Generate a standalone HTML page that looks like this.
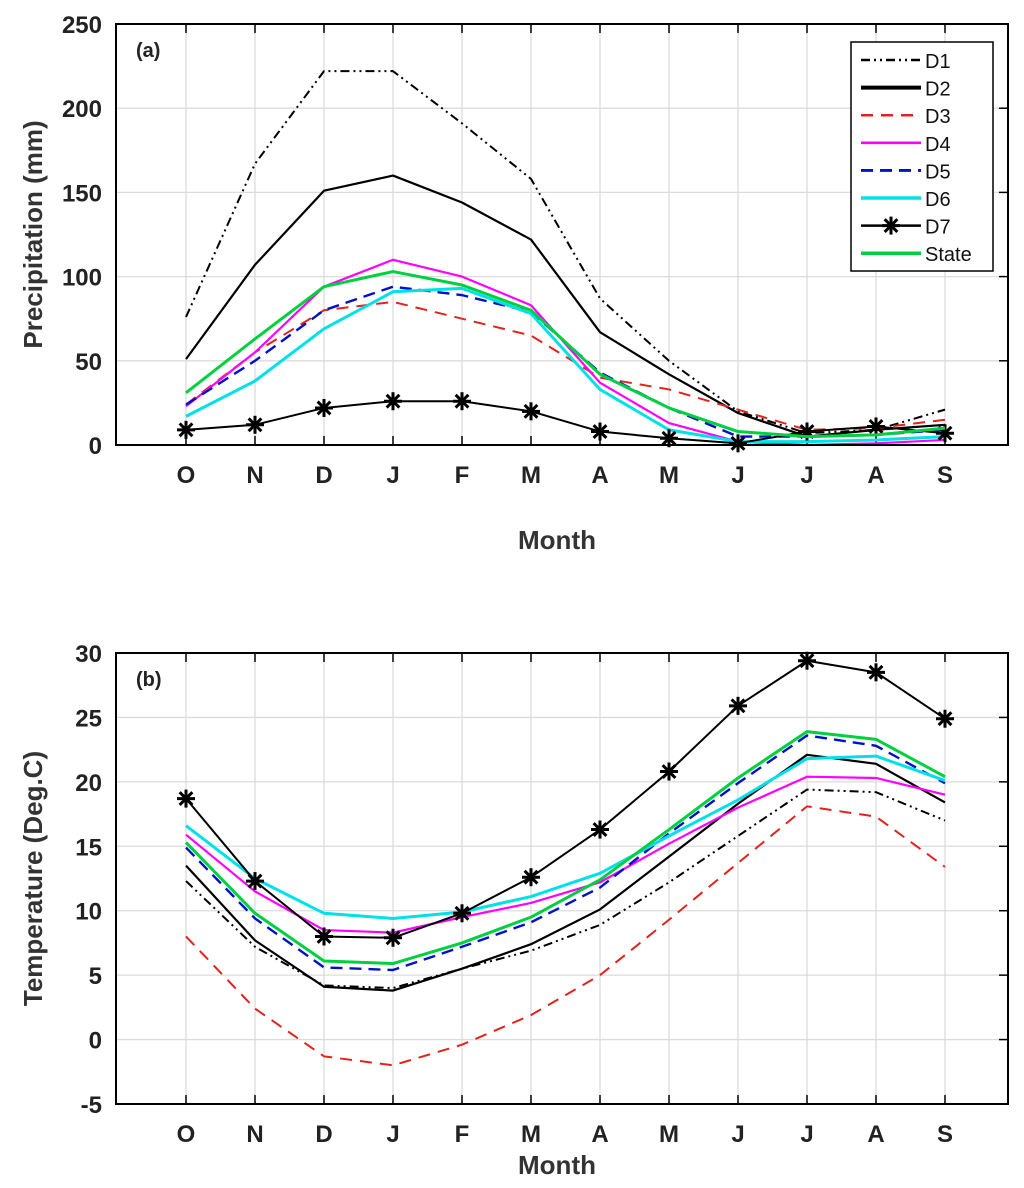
<!DOCTYPE html>
<html><head><meta charset="utf-8"><style>
html,body{margin:0;padding:0;background:#fff;}
svg{display:block;font-family:"Liberation Sans",Arial,sans-serif;}
</style></head><body>
<svg id="fig" width="1024" height="1188" viewBox="0 0 1024 1188" xmlns="http://www.w3.org/2000/svg"></svg>
<script>
const months = ["O","N","D","J","F","M","A","M","J","J","A","S"];
const seriesNames = ["D1","D2","D3","D4","D5","D6","D7","State"];
const precipD1 = [76,167,222,222,191,158,87,50,20,7,9,21];
const precipD2 = [51,107,151,160,144,122,67,42,19,5,9,12];
const precipD3 = [24,55,80,85,75,65,40,33,21,9,10,15];
const precipD4 = [23,55,94,110,100,83,37,13,2,0,1,3];
const precipD5 = [24,50,80,94,89,79,43,22,5,5,6,9];
const precipD6 = [17,38,69,91,93,78,33,9,2,2,3,5];
const precipD7 = [9,12,22,26,26,20,8,4,1,8,11,7];
const precipState = [31,63,94,103,95,80,42,22,8,5,6,10];
const tempD1 = [12.3,7.2,4.2,4,5.5,6.9,8.9,12.2,15.8,19.4,19.2,17];
const tempD2 = [13.5,7.7,4.1,3.8,5.5,7.4,10.1,14.2,18.3,22.1,21.4,18.4];
const tempD3 = [8,2.4,-1.3,-2,-0.4,1.9,5,9.3,13.7,18.1,17.3,13.4];
const tempD4 = [15.9,11.5,8.5,8.3,9.5,10.6,12.2,15.2,18,20.4,20.3,19];
const tempD5 = [14.9,9.4,5.6,5.4,7.2,9.1,11.8,16,19.9,23.6,22.8,19.9];
const tempD6 = [16.6,12.5,9.8,9.4,9.9,11.1,12.9,15.8,18.6,21.8,22,20.1];
const tempD7 = [18.7,12.3,8,7.9,9.8,12.6,16.3,20.8,25.9,29.4,28.5,24.9];
const tempState = [15.3,9.8,6.1,5.9,7.5,9.5,12.4,16.3,20.3,23.9,23.3,20.4];
const precipTicks = [0,50,100,150,200,250];
const tempTicks = [-5,0,5,10,15,20,25,30];

const NS="http://www.w3.org/2000/svg";
const svg=document.getElementById('fig');
function mk(tag,attrs,parent){const e=document.createElementNS(NS,tag);for(const k in attrs)e.setAttribute(k,attrs[k]);(parent||svg).appendChild(e);return e;}

const styles=[
 {stroke:"#000",w:2,dash:"9 4 2 4 2 4"},
 {stroke:"#000",w:2.2,dash:""},
 {stroke:"#e0241c",w:2,dash:"12 8"},
 {stroke:"#ff00ff",w:2.2,dash:""},
 {stroke:"#0010c8",w:2.4,dash:"12 7"},
 {stroke:"#00e0e8",w:3,dash:""},
 {stroke:"#000",w:2,dash:"",marker:true},
 {stroke:"#00d040",w:3,dash:""}
];

function panel(cfg){
  const g=mk('g',{});
  
  
  const L=116,R=1008,T=cfg.top,B=cfg.bottom;
  const x=i=>186+69*i;
  const y=v=>B-(v-cfg.min)/(cfg.max-cfg.min)*(B-T);
  months.forEach((m,i)=>{mk('line',{x1:x(i),x2:x(i),y1:T,y2:B,stroke:"#dcdcdc","stroke-width":1.3},g);});
  cfg.ticks.forEach(t=>{mk('line',{x1:L,x2:R,y1:y(t),y2:y(t),stroke:"#dcdcdc","stroke-width":1.3},g);});
  months.forEach((m,i)=>{
    mk('line',{x1:x(i),x2:x(i),y1:T,y2:T+9,stroke:"#000","stroke-width":1.5},g);
    mk('line',{x1:x(i),x2:x(i),y1:B,y2:B-9,stroke:"#000","stroke-width":1.5},g);
    const t=mk('text',{x:x(i),y:B+38,"text-anchor":"middle","font-size":24,"font-weight":"bold",fill:"#222"},g);
    t.textContent=m;
    
    
  });
  cfg.ticks.forEach(v=>{
    mk('line',{x1:R,x2:R-9,y1:y(v),y2:y(v),stroke:"#000","stroke-width":1.5},g);
    const t=mk('text',{x:102,y:y(v)+9,"text-anchor":"end","font-size":24,"font-weight":"bold",fill:"#222"},g);
    t.textContent=v;
    
    
  });
  cfg.data.forEach((arr,k)=>{
    const s=styles[k];
    const pts=arr.map((v,i)=>x(i)+","+y(v)).join(" ");
    const pl=mk('polyline',{points:pts,fill:"none",stroke:s.stroke,"stroke-width":s.w,"stroke-dasharray":s.dash,"stroke-linejoin":"round"},g);
    
    
    if(s.marker){arr.forEach((v,i)=>{star(x(i),y(v),g);});}
  });
  const fr=mk('rect',{x:L,y:T,width:R-L,height:B-T,fill:"none",stroke:"#000","stroke-width":2},g);
  
  
  const pl=mk('text',{x:136,y:T+33,"font-size":20,"font-weight":"bold",fill:"#222"},g);
  pl.textContent=cfg.label;
  
  
  const xt=mk('text',{x:557,y:B+cfg.mOff,"text-anchor":"middle","font-size":26,"font-weight":"bold",fill:"#333"},g);
  xt.textContent="Month";
  
  
  const cy=(T+B)/2;
  const yt=mk('text',{x:0,y:0,transform:"translate(42,"+cy+") rotate(-90)","text-anchor":"middle","font-size":26,"font-weight":"bold",fill:"#333"},g);
  yt.textContent=cfg.ytitle;
  
  
}
function star(cx,cy,g){
  const r=9;
  for(let a=0;a<4;a++){const an=a*Math.PI/4;
    mk('line',{x1:cx-r*Math.cos(an),y1:cy-r*Math.sin(an),x2:cx+r*Math.cos(an),y2:cy+r*Math.sin(an),stroke:"#000","stroke-width":3},g);}
}
panel({name:"precipitation-panel",top:24,bottom:445,min:0,max:250,ticks:precipTicks,label:"(a)",ytitle:"Precipitation (mm)",mOff:104,
  data:[precipD1,precipD2,precipD3,precipD4,precipD5,precipD6,precipD7,precipState]});
panel({name:"temperature-panel",top:653,bottom:1104,min:-5,max:30,ticks:tempTicks,label:"(b)",ytitle:"Temperature (Deg.C)",mOff:70,
  data:[tempD1,tempD2,tempD3,tempD4,tempD5,tempD6,tempD7,tempState]});
const lg=mk('g',{});


mk('rect',{x:851,y:42,width:142,height:229,fill:"#fff",stroke:"#000","stroke-width":1.5},lg);
seriesNames.forEach((n,k)=>{
  const yy=60+27.6*k; const s=styles[k];
  const e=mk('g',{},lg);
  
  
  mk('line',{x1:861,x2:921,y1:yy,y2:yy,stroke:s.stroke,"stroke-width":k==1?4:s.w+0.5,"stroke-dasharray":s.dash},e);
  if(s.marker)star(891,yy,e);
  const t=mk('text',{x:925,y:yy+8,"font-size":20,fill:"#111"},e);
  t.textContent=n;
});
</script>
</body></html>
